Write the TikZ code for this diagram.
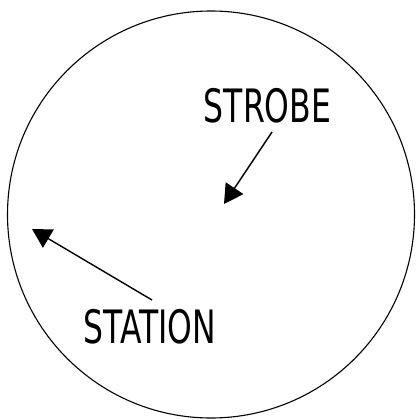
\documentclass[tikz,border=0pt]{standalone}
\usepackage{fontspec}
\newfontfamily\labfont[FakeStretch=0.76]{DejaVu Sans Condensed}
\usetikzlibrary{arrows.meta}
\begin{document}
\begin{tikzpicture}[x=1pt,y=-1pt,
  lab/.style={font=\labfont\fontsize{46}{46}\selectfont, inner sep=0pt, anchor=base},
  ptr/.style={line width=1.4pt, -{Triangle[length=19pt,width=21pt]}}]
\useasboundingbox (0,0) rectangle (415,420);
\node[draw, circle, line width=1.1pt, minimum size=407pt, inner sep=0pt] (dial) at (211,214.5) {};
\node[lab] (strobe) at (267.5,122) {STROBE};
\node[lab] (station) at (150,343) {STATION};
\coordinate (s1) at (272,132);
\coordinate (s2) at (224,204);
\coordinate (t1) at (152,300);
\coordinate (t2) at (32,229);
\draw[ptr] (s1) -- (s2);
\draw[ptr] (t1) -- (t2);
\end{tikzpicture}
\end{document}
